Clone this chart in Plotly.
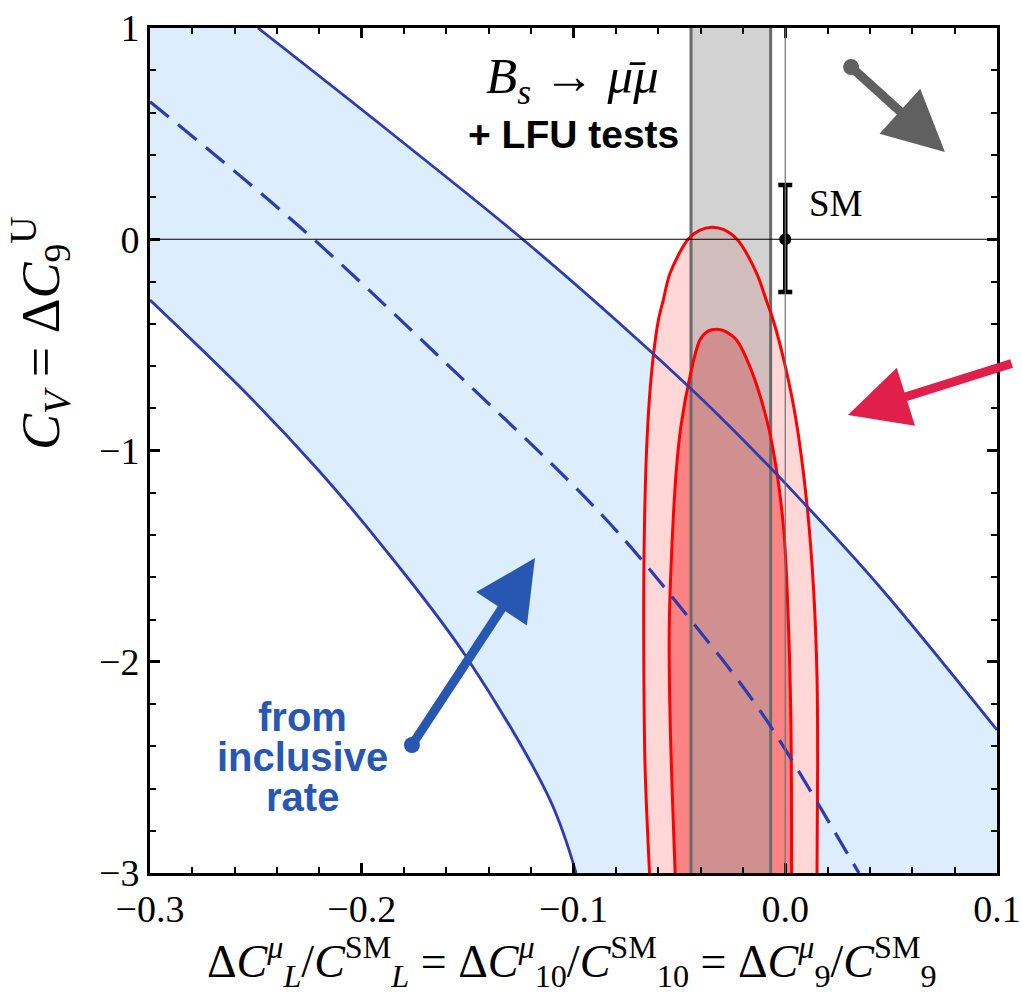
import plotly.graph_objects as go

# ---------------- data ----------------
# inclusive-rate band (blue)
upper_x = [-0.249, -0.187, -0.124, -0.0686, -0.030, 0.007, 0.0447, 0.1]
upper_y = [1.0, 0.51, 0.0, -0.485, -0.848, -1.23, -1.646, -2.323]
lower_x = [-0.3, -0.2528, -0.2197, -0.1914, -0.1512, -0.1111, -0.0988]
lower_y = [-0.288, -0.747, -1.102, -1.438, -1.968, -2.654, -3.0]
center_x = [-0.3, -0.2292, -0.1583, -0.0861, -0.0450, -0.0105, 0.0306, 0.0348]
center_y = [0.651, 0.058, -0.605, -1.310, -1.798, -2.252, -2.929, -3.0]

# red contours (outer and inner)
outer_x = [-0.0641, -0.0662, -0.0668, -0.0667, -0.0655, -0.0633, -0.0599, -0.0576,
           -0.0544, -0.0459, -0.0405, -0.0346, -0.0290, -0.0228, -0.0135, -0.0090,
           -0.0057, 0.0000, 0.0050, 0.0102, 0.0134, 0.0150, 0.0153, 0.0150]
outer_y = [-3.0, -2.5, -2.0, -1.5, -1.0, -0.65, -0.382, -0.288,
           -0.161, 0.0, 0.042, 0.057, 0.045, 0.0, -0.161, -0.288,
           -0.382, -0.60, -0.85, -1.25, -1.66, -2.07, -2.48, -3.0]
inner_x = [-0.0520, -0.0543, -0.0548, -0.0535, -0.0515, -0.0492, -0.0450, -0.0403,
           -0.0365, -0.0322, -0.0280, -0.0230, -0.0167, -0.0087, -0.0040, -0.0005,
           0.0016, 0.0027, 0.0030]
inner_y = [-3.0, -2.3, -1.85, -1.45, -1.10, -0.88, -0.65, -0.477,
           -0.435, -0.426, -0.437, -0.477, -0.603, -0.856, -1.10, -1.40,
           -1.85, -2.3, -3.0]

# Bs -> mu mu band (grey)
bs_band = [-0.0445, -0.0069]

# SM point
sm_x = [0.0]
sm_y = [0.0]
sm_err_plus = [0.257]
sm_err_minus = [0.25]

# axes
x_range = [-0.3, 0.1]
y_range = [-3.0, 1.0]
x_ticks = [-0.3, -0.2, -0.1, 0.0, 0.1]
x_ticktext = ["\u22120.3", "\u22120.2", "\u22120.1", "0.0", "0.1"]
y_ticks = [1, 0, -1, -2, -3]
y_ticktext = ["1", "0", "\u22121", "\u22122", "\u22123"]

# hand-drawn arrows: (tail, head) in data coordinates
arrows = [
    dict(tail=(0.0311, 0.815), head=(0.0754, 0.413), color="#606060"),
    dict(tail=(0.1076, -0.586), head=(0.0296, -0.832), color="#e0204a"),
    dict(tail=(-0.1763, -2.394), head=(-0.1182, -1.509), color="#2757b0"),
]

BLUE_LINE = "#2f3cae"
BLUE_FILL = "#dcedfd"
SERIF = "Liberation Serif, DejaVu Serif, serif"
SANS = "Liberation Sans, Arial, sans-serif"

fig = go.Figure()

# blue band fill
band_x = upper_x + [x_range[1], lower_x[-1]] + lower_x[::-1] + [x_range[0], upper_x[0]]
band_y = upper_y + [y_range[0], y_range[0]] + lower_y[::-1] + [y_range[1], upper_y[0]]
fig.add_trace(go.Scatter(x=band_x, y=band_y, fill="toself", fillcolor=BLUE_FILL,
                         line=dict(width=0), mode="lines", hoverinfo="skip"))

SPL = dict(shape="spline", smoothing=0.9)
# red fills
fig.add_trace(go.Scatter(x=outer_x, y=outer_y, fill="toself", fillcolor="#ffd7d7",
                         line=dict(width=0, **SPL), mode="lines", hoverinfo="skip"))
fig.add_trace(go.Scatter(x=inner_x, y=inner_y, fill="toself", fillcolor="#fb8383",
                         line=dict(width=0, **SPL), mode="lines", hoverinfo="skip"))

# grey band (translucent)
fig.add_trace(go.Scatter(x=[bs_band[0], bs_band[0], bs_band[1], bs_band[1]],
                         y=[y_range[0], y_range[1], y_range[1], y_range[0]],
                         fill="toself", fillcolor="rgba(160,160,160,0.47)",
                         line=dict(width=0), mode="lines", hoverinfo="skip"))
for bx in bs_band:
    fig.add_trace(go.Scatter(x=[bx, bx], y=y_range, mode="lines",
                             line=dict(color="#6a6a6a", width=3), hoverinfo="skip"))

# red contour lines
fig.add_trace(go.Scatter(x=outer_x, y=outer_y, mode="lines", line=dict(color="#ff0000", width=3, **SPL)))
fig.add_trace(go.Scatter(x=inner_x, y=inner_y, mode="lines", line=dict(color="#ff0000", width=3, **SPL)))

# blue lines
BSPL = dict(shape="spline", smoothing=1.0)
fig.add_trace(go.Scatter(x=upper_x, y=upper_y, mode="lines", line=dict(color=BLUE_LINE, width=2.8, **BSPL)))
fig.add_trace(go.Scatter(x=lower_x, y=lower_y, mode="lines", line=dict(color=BLUE_LINE, width=2.8, **BSPL)))
fig.add_trace(go.Scatter(x=center_x, y=center_y, mode="lines",
                         line=dict(color=BLUE_LINE, width=3.2, dash="24px,12px", **BSPL)))

# SM point
fig.add_trace(go.Scatter(x=sm_x, y=sm_y, mode="markers",
                         marker=dict(color="black", size=12),
                         error_y=dict(type="data", array=sm_err_plus, arrayminus=sm_err_minus,
                                      color="black", thickness=4.5, width=7)))

# arrow tail blobs
fig.add_trace(go.Scatter(x=[a["tail"][0] for a in arrows], y=[a["tail"][1] for a in arrows],
                         mode="markers", cliponaxis=False,
                         marker=dict(color=[a["color"] for a in arrows], size=16)))

annotations = []
for a in arrows:
    annotations.append(dict(x=a["head"][0], y=a["head"][1], xref="x", yref="y",
                            ax=a["tail"][0], ay=a["tail"][1], axref="x", ayref="y",
                            showarrow=True, arrowhead=2, arrowsize=1.35, arrowwidth=9,
                            arrowcolor=a["color"], text=""))

annotations += [
    dict(x=-0.1007, y=0.755, xref="x", yref="y", showarrow=False,
         text="<i>B</i><sub><i>s</i></sub> \u2192 <i>\u03bc\u0304\u03bc</i>",
         font=dict(family=SERIF, size=51, color="black")),
    dict(x=-0.1002, y=0.497, xref="x", yref="y", showarrow=False,
         text="<b>+ LFU tests</b>", font=dict(family=SANS, size=39, color="black")),
    dict(x=0.0235, y=0.17, xref="x", yref="y", showarrow=False,
         text="SM", font=dict(family=SERIF, size=37, color="black")),
    dict(x=-0.2282, y=-2.262, xref="x", yref="y", showarrow=False,
         text="<b>from</b>", font=dict(family=SANS, size=40, color="#2757b0")),
    dict(x=-0.2282, y=-2.451, xref="x", yref="y", showarrow=False,
         text="<b>inclusive</b>", font=dict(family=SANS, size=40, color="#2757b0")),
    dict(x=-0.2282, y=-2.640, xref="x", yref="y", showarrow=False,
         text="<b>rate</b>", font=dict(family=SANS, size=40, color="#2757b0")),
    # axis titles
    dict(x=0.498, y=-0.105, xref="paper", yref="paper", showarrow=False,
         xanchor="center", yanchor="middle",
         text=("\u0394<i>C</i><sup><i>\u03bc</i></sup><sub><i>L</i></sub>/<i>C</i><sup>SM</sup><sub><i>L</i></sub>"
               " = \u0394<i>C</i><sup><i>\u03bc</i></sup><sub>10</sub>/<i>C</i><sup>SM</sup><sub>10</sub>"
               " = \u0394<i>C</i><sup><i>\u03bc</i></sup><sub>9</sub>/<i>C</i><sup>SM</sup><sub>9</sub>"),
         font=dict(family=SERIF, size=46, color="black")),
    dict(x=-0.13, y=0.639, xref="paper", yref="paper", showarrow=False,
         xanchor="center", yanchor="middle", textangle=-90,
         text="<i>C</i><sub><i>V</i></sub> = \u0394<i>C</i><sub>9</sub><sup>U</sup>",
         font=dict(family=SERIF, size=54, color="black")),
]

shapes = [
    dict(type="line", xref="paper", yref="y", x0=0, x1=1, y0=0, y1=0,
         line=dict(color="black", width=1.2), layer="above"),
    dict(type="line", xref="x", yref="paper", x0=0, x1=0, y0=0, y1=1,
         line=dict(color="#707070", width=1.2), layer="above"),
]

axis_common = dict(showgrid=False, zeroline=False, showline=True, linecolor="black",
                   linewidth=3, mirror="ticks", ticks="inside", ticklen=10, tickwidth=2.5,
                   tickcolor="black", automargin=False,
                   tickfont=dict(family=SERIF, size=38, color="black"))

fig.update_layout(
    width=1022, height=997,
    margin=dict(l=150, r=25, t=28, b=124),
    paper_bgcolor="white", plot_bgcolor="white",
    showlegend=False,
    annotations=annotations, shapes=shapes,
    xaxis=dict(range=x_range, tickvals=x_ticks, ticktext=x_ticktext,
               minor=dict(ticks="inside", ticklen=6, tickwidth=2, tickcolor="black", dtick=0.02),
               **axis_common),
    yaxis=dict(range=y_range, tickvals=y_ticks, ticktext=y_ticktext,
               minor=dict(ticks="inside", ticklen=6, tickwidth=2, tickcolor="black", dtick=0.2),
               **axis_common),
)

fig.write_html("out.html")
